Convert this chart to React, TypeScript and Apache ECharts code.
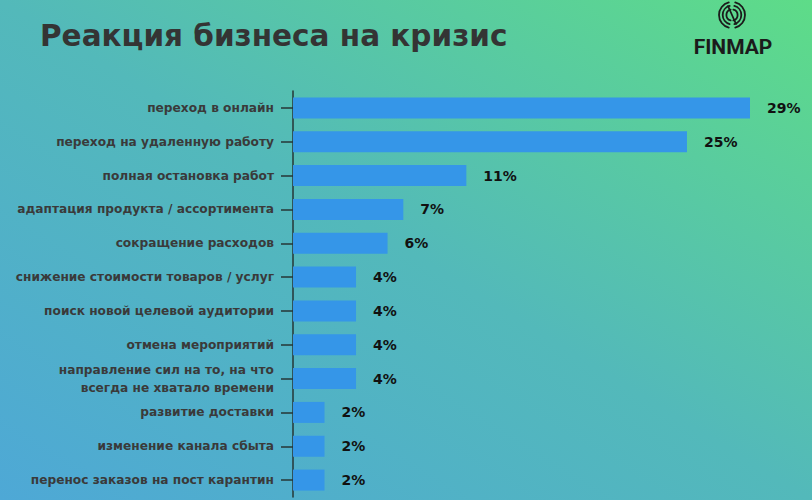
import React, { useEffect, useRef } from "react";
import * as echarts from "echarts";

const categories: string[] = [
  "переход в онлайн",
  "переход на удаленную работу",
  "полная остановка работ",
  "адаптация продукта / ассортимента",
  "сокращение расходов",
  "снижение стоимости товаров / услуг",
  "поиск новой целевой аудитории",
  "отмена мероприятий",
  "направление сил на то, на что\nвсегда не хватало времени",
  "развитие доставки",
  "изменение канала сбыта",
  "перенос заказов на пост карантин",
];
const values: number[] = [29, 25, 11, 7, 6, 4, 4, 4, 4, 2, 2, 2];

const titleText = "Реакция бизнеса на кризис";
const brandText = "FINMAP";

export default function App() {
  const ref = useRef<HTMLDivElement>(null);
  useEffect(() => {
    document.body.style.margin = "0";
    if (!ref.current) return;
    const chart = echarts.init(ref.current, undefined, { renderer: "svg" });
    const font = "'DejaVu Sans', sans-serif";
    const ink = "#1b1b1b";
    const cx = 732;
    const cy = 15;
    const arcs: any[] = [];
    [13, 9.3, 5.6].forEach((r) => {
      arcs.push({
        type: "arc",
        shape: { cx, cy, r, startAngle: Math.PI * 0.58, endAngle: Math.PI * 1.42, clockwise: true },
        style: { stroke: ink, lineWidth: 1.8, fill: null, lineCap: "round" },
      });
      arcs.push({
        type: "arc",
        shape: { cx, cy, r, startAngle: -Math.PI * 0.42, endAngle: Math.PI * 0.42, clockwise: true },
        style: { stroke: ink, lineWidth: 1.8, fill: null, lineCap: "round" },
      });
    });
    arcs.push({
      type: "line",
      shape: { x1: cx - 4, y1: cy - 9, x2: cx + 4, y2: cy + 9 },
      style: { stroke: ink, lineWidth: 1.8, lineCap: "round" },
    });
    chart.setOption({
      animation: false,
      backgroundColor: new echarts.graphic.LinearGradient(0, 1, 1, 0, [
        { offset: 0, color: "#4ea8d6" },
        { offset: 0.5, color: "#53b9ba" },
        { offset: 1, color: "#5edc88" },
      ]),
      graphic: [
        {
          type: "text",
          left: 40,
          top: 21,
          style: {
            text: titleText,
            fontFamily: font,
            fontSize: 29.5,
            fontWeight: "bold",
            fill: "#343434",
          },
        },
        {
          type: "text",
          x: 733,
          y: 46.5,
          style: {
            text: brandText,
            fontFamily: "Roboto, sans-serif",
            fontSize: 21,
            fontWeight: "bold",
            fill: ink,
            align: "center",
            verticalAlign: "middle",
          },
        },
        ...arcs,
      ],
      grid: { left: 293, right: 62, top: 91, bottom: 3 },
      xAxis: {
        type: "value",
        min: 0,
        max: 29,
        show: false,
      },
      yAxis: {
        type: "category",
        data: categories,
        inverse: true,
        axisLine: { show: true, lineStyle: { color: "#263636", width: 1.5 } },
        axisTick: { show: true, length: 12, alignWithLabel: true, lineStyle: { color: "#263636", width: 1.5 } },
        axisLabel: {
          margin: 19,
          fontFamily: font,
          fontSize: 12.2,
          fontWeight: "bold",
          color: "#3a3a3a",
          lineHeight: 18,
          align: "right",
        },
        splitLine: { show: false },
      },
      series: [
        {
          type: "bar",
          data: values,
          barWidth: 21,
          itemStyle: { color: "#3596e8" },
          label: {
            show: true,
            position: "right",
            distance: 17,
            formatter: "{c}%",
            fontFamily: font,
            fontSize: 14,
            fontWeight: "bold",
            color: "#111111",
          },
        },
      ],
    });
    return () => chart.dispose();
  }, []);
  return <div ref={ref} style={{ width: 812, height: 500 }} />;
}
